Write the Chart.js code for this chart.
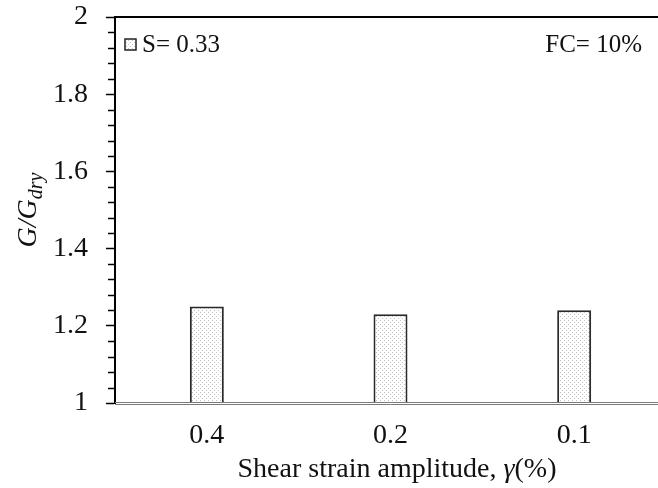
<!DOCTYPE html>
<html>
<head>
<meta charset="utf-8">
<script src="https://cdn.jsdelivr.net/npm/chart.js@4/dist/chart.umd.min.js"></script>
<style>
  html, body { margin: 0; padding: 0; background: #fff; overflow: hidden; }
  #wrap { position: relative; width: 666px; height: 488px; }
</style>
</head>
<body>
<div id="wrap"><canvas id="c"></canvas></div>
<script>
// Shear strain amplitude categories (%)
const strainLevels = ['0.4', '0.2', '0.1'];
// Normalised shear modulus G/Gdry for S = 0.33
const modulusRatio = [1.25, 1.23, 1.24];
const seriesLabel = 'S= 0.33';
const fcNote = 'FC= 10%';
const yMin = 1, yMax = 2, yMajorStep = 0.2, yMinorStep = 0.04;

const SERIF = "'Liberation Serif', 'Times New Roman', serif";

function dotPattern(ctx) {
  const t = document.createElement('canvas');
  t.width = 4; t.height = 4;
  const g = t.getContext('2d');
  g.fillStyle = '#ffffff'; g.fillRect(0, 0, 4, 4);
  g.fillStyle = '#c2c2c2';
  g.fillRect(0, 0, 1, 1);
  g.fillRect(2, 2, 1, 1);
  return ctx.createPattern(t, 'repeat');
}

const canvas = document.getElementById('c');
const fill = dotPattern(canvas.getContext('2d'));

// Frame, minor ticks, legend, note and axis titles with mixed styling
const decorations = {
  id: 'decorations',
  afterDatasetsDraw(chart) {
    const { ctx, chartArea: a, scales: { y } } = chart;
    ctx.save();
    // minor ticks on the y axis
    ctx.strokeStyle = '#000'; ctx.lineWidth = 1.5;
    const n = Math.round((yMax - yMin) / yMinorStep);
    const per = Math.round(yMajorStep / yMinorStep);
    for (let i = 0; i <= n; i++) {
      if (i % per === 0) continue;
      const py = Math.round(y.getPixelForValue(yMin + i * yMinorStep)) + 0.5;
      ctx.beginPath(); ctx.moveTo(a.left - 7, py); ctx.lineTo(a.left, py); ctx.stroke();
    }
    // top border
    ctx.lineWidth = 2;
    ctx.beginPath(); ctx.moveTo(a.left - 1, a.top); ctx.lineTo(a.right, a.top); ctx.stroke();
    // bottom double rule
    ctx.strokeStyle = '#7a7a7a'; ctx.lineWidth = 1;
    const b = Math.round(a.bottom);
    ctx.beginPath(); ctx.moveTo(a.left, b - 0.5); ctx.lineTo(a.right, b - 0.5); ctx.stroke();
    ctx.beginPath(); ctx.moveTo(a.left, b + 1.5); ctx.lineTo(a.right, b + 1.5); ctx.stroke();

    // legend entry
    const bx = a.left + 10, by = a.top + 22;
    ctx.fillStyle = fill; ctx.fillRect(bx, by, 11, 11);
    ctx.strokeStyle = '#222'; ctx.lineWidth = 1.5; ctx.strokeRect(bx, by, 11, 11);
    ctx.fillStyle = '#111';
    ctx.font = '25px ' + SERIF;
    ctx.textBaseline = 'middle'; ctx.textAlign = 'left';
    ctx.fillText(chart.data.datasets[0].label, bx + 17, by + 6);
    // note at top right
    ctx.textAlign = 'right';
    ctx.fillText(fcNote, 642, by + 6);

    // x axis title: "Shear strain amplitude, γ(%)"
    const parts = [
      { t: 'Shear strain amplitude, ', f: '28px ' + SERIF },
      { t: 'γ', f: 'italic 28px ' + SERIF },
      { t: '(%)', f: '28px ' + SERIF }
    ];
    let w = 0;
    parts.forEach(p => { ctx.font = p.f; p.w = ctx.measureText(p.t).width; w += p.w; });
    let x0 = 397 - w / 2;
    ctx.textAlign = 'left'; ctx.textBaseline = 'alphabetic';
    parts.forEach(p => { ctx.font = p.f; ctx.fillText(p.t, x0, 477); x0 += p.w; });

    // y axis title: G/G with subscript "dry"
    ctx.save();
    ctx.translate(36, 210);
    ctx.rotate(-Math.PI / 2);
    const mainF = 'italic 28px ' + SERIF, subF = 'italic 20px ' + SERIF;
    ctx.font = mainF; const mw = ctx.measureText('G/G').width;
    ctx.font = subF; const sw = ctx.measureText('dry').width;
    const sx = -(mw + sw) / 2;
    ctx.font = mainF; ctx.fillText('G/G', sx, 0);
    ctx.font = subF; ctx.fillText('dry', sx + mw, 6);
    ctx.restore();

    ctx.restore();
  }
};

new Chart(canvas, {
  type: 'bar',
  data: {
    labels: strainLevels,
    datasets: [{
      label: seriesLabel,
      data: modulusRatio,
      backgroundColor: fill,
      borderColor: '#2a2a2a',
      borderWidth: 2,
      borderSkipped: 'bottom',
      categoryPercentage: 1,
      barPercentage: 0.185
    }]
  },
  options: {
    responsive: true,
    maintainAspectRatio: false,
    animation: false,
    layout: { padding: { top: 0, right: 0, left: 0, bottom: 0 } },
    plugins: { legend: { display: false }, tooltip: { enabled: false } },
    scales: {
      x: {
        grid: { display: false },
        border: { display: false },
        ticks: { color: '#111', font: { family: SERIF, size: 28 }, padding: 8 },
        afterFit(s) { s.height = 85; s.paddingLeft = 0; s.paddingRight = 0; }
      },
      y: {
        min: yMin, max: yMax,
        grid: { drawOnChartArea: false, drawTicks: true, tickLength: 9, tickColor: '#000', tickWidth: 1.5 },
        border: { display: true, color: '#000', width: 2 },
        ticks: {
          stepSize: yMajorStep,
          color: '#111',
          font: { family: SERIF, size: 28 },
          padding: 18,
          callback: v => (Math.abs(v - Math.round(v)) < 1e-9 ? String(Math.round(v)) : v.toFixed(1))
        },
        afterFit(s) { s.width = 115; s.paddingTop = 17; s.paddingBottom = 0; }
      }
    }
  },
  plugins: [decorations]
});
</script>
</body>
</html>
